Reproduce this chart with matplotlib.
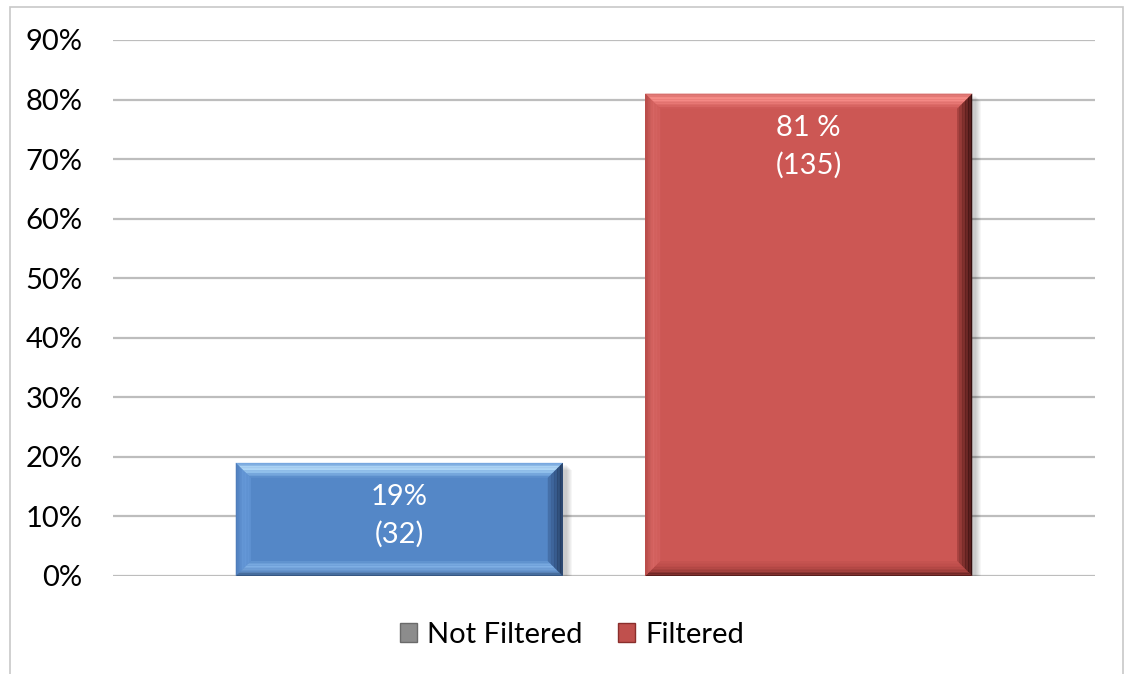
import matplotlib
matplotlib.use("Agg")
import matplotlib.pyplot as plt
from matplotlib.patches import Polygon, Rectangle, Patch
from matplotlib.ticker import FuncFormatter

# Data
series = ["Not Filtered", "Filtered"]
percent = [19, 81]
counts = [32, 135]
value_labels = ["19%\n(32)", "81 %\n(135)"]
y_ticks = [0, 10, 20, 30, 40, 50, 60, 70, 80, 90]

plt.rcParams["font.family"] = ["Lato", "DejaVu Sans"]

W, H = 1125, 674
fig = plt.figure(figsize=(W / 100, H / 100), dpi=100)

# Outer chart frame
fig.patches.append(Rectangle((10 / W, -0.01), (1123 - 10) / W, 1 - 7 / H + 0.01,
                             transform=fig.transFigure, fill=False,
                             edgecolor="#c8c8c8", linewidth=1.2))

left, right, top, bottom = 113, 1095, 40, 576
ax = fig.add_axes([left / W, 1 - bottom / H, (right - left) / W, (bottom - top) / H])
ax.set_xlim(-0.5, 0.5)
ax.set_ylim(0, 90)
ax.set_yticks(y_ticks)
ax.yaxis.set_major_formatter(FuncFormatter(lambda v, p: f"{int(v)}%"))
ax.tick_params(axis="y", length=0, pad=22, labelsize=21)
ax.set_xticks([])
for s in ax.spines.values():
    s.set_visible(False)
for t in y_ticks:
    ax.axhline(t, color="#bdbdbd", linewidth=1.6, zorder=0)

positions = [-0.2085, 0.2085]
width = 0.333

face_colors = [(0.33, 0.53, 0.78), (0.80, 0.34, 0.33)]
bevels = [
    {  # blue
        "top": [(0.42, 0.62, 0.86), (0.75, 0.89, 0.99), (0.55, 0.74, 0.92), (0.33, 0.53, 0.78)],
        "left": [(0.30, 0.48, 0.72), (0.40, 0.60, 0.85), (0.38, 0.58, 0.83)],
        "right": [(0.12, 0.20, 0.32), (0.20, 0.33, 0.52), (0.28, 0.45, 0.68)],
        "bottom": [(0.18, 0.30, 0.46), (0.40, 0.58, 0.80), (0.50, 0.69, 0.90), (0.36, 0.56, 0.80)],
    },
    {  # red
        "top": [(0.82, 0.42, 0.41), (0.99, 0.58, 0.56), (0.90, 0.46, 0.45), (0.80, 0.34, 0.33)],
        "left": [(0.70, 0.28, 0.27), (0.84, 0.40, 0.39), (0.82, 0.37, 0.36)],
        "right": [(0.18, 0.05, 0.05), (0.40, 0.14, 0.13), (0.66, 0.26, 0.25)],
        "bottom": [(0.30, 0.09, 0.09), (0.62, 0.24, 0.23), (0.74, 0.30, 0.29), (0.78, 0.33, 0.32)],
    },
]

px_x = 1.0 / (right - left)
px_y = 90.0 / (bottom - top)
bev = 15  # bevel size in pixels


def lerp(a, b, t):
    return tuple(a[i] + (b[i] - a[i]) * t for i in range(3))


def ramp(stops, t):
    n = len(stops) - 1
    k = min(int(t * n), n - 1)
    return lerp(stops[k], stops[k + 1], t * n - k)


for pos, val, fc, bv in zip(positions, percent, face_colors, bevels):
    x0, x1 = pos - width / 2, pos + width / 2
    y0, y1 = 0, val
    # soft drop shadow
    for i in range(6, 0, -1):
        ax.add_patch(Rectangle((x0 + 2 * px_x, y0 - (i + 1) * px_y),
                               width + (i + 1) * px_x, val,
                               facecolor="black", alpha=0.035, linewidth=0, zorder=1))
    ax.bar(pos, val, width=width, color=fc, linewidth=0, zorder=2)
    dx, dy = bev * px_x, bev * px_y
    n = 10
    for i in range(n):
        t0, t1 = i / n, (i + 1) / n
        tm = (t0 + t1) / 2
        ax.add_patch(Polygon([(x0 + dx * t0, y1 - dy * t0), (x1 - dx * t0, y1 - dy * t0),
                              (x1 - dx * t1, y1 - dy * t1), (x0 + dx * t1, y1 - dy * t1)],
                             closed=True, facecolor=ramp(bv["top"], tm),
                             edgecolor="none", zorder=3))
        ax.add_patch(Polygon([(x0 + dx * t0, y0 + dy * t0), (x1 - dx * t0, y0 + dy * t0),
                              (x1 - dx * t1, y0 + dy * t1), (x0 + dx * t1, y0 + dy * t1)],
                             closed=True, facecolor=ramp(bv["bottom"], tm),
                             edgecolor="none", zorder=3))
        ax.add_patch(Polygon([(x0 + dx * t0, y0 + dy * t0), (x0 + dx * t0, y1 - dy * t0),
                              (x0 + dx * t1, y1 - dy * t1), (x0 + dx * t1, y0 + dy * t1)],
                             closed=True, facecolor=ramp(bv["left"], tm),
                             edgecolor="none", zorder=3))
        ax.add_patch(Polygon([(x1 - dx * t0, y0 + dy * t0), (x1 - dx * t0, y1 - dy * t0),
                              (x1 - dx * t1, y1 - dy * t1), (x1 - dx * t1, y0 + dy * t1)],
                             closed=True, facecolor=ramp(bv["right"], tm),
                             edgecolor="none", zorder=3))

for pos, val, lab in zip(positions, percent, value_labels):
    ax.annotate(lab, xy=(pos, val), xytext=(0, -21), textcoords="offset pixels",
                ha="center", va="top", color="white", fontsize=21,
                linespacing=1.5, zorder=5)

handles = [Patch(facecolor="#8c8c8c", edgecolor="#6a6a6a", linewidth=1.0),
           Patch(facecolor="#c0504d", edgecolor="#8a2e2c", linewidth=1.0)]
fig.legend(handles, series, loc="center", bbox_to_anchor=(572 / W, 1 - 635 / H),
           ncol=2, frameon=False, fontsize=21, handlelength=0.6, handleheight=0.6,
           handletextpad=0.35, columnspacing=1.2)

fig.savefig("out.png", dpi=100)
